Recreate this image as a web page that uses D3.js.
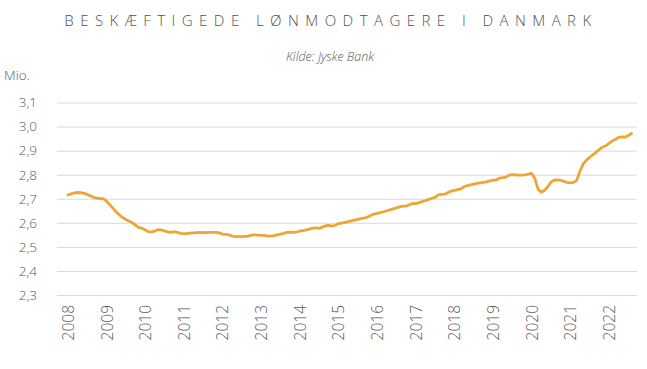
<!DOCTYPE html>
<html><head><meta charset="utf-8">
<script src="https://cdn.jsdelivr.net/npm/d3@7"></script>
<style>
body{margin:0;background:#fff;}
svg{display:block;}
</style></head>
<body>
<svg id="c" width="647" height="369"></svg>
<script>
const title = "BESKÆFTIGEDE LØNMODTAGERE I DANMARK";
const subtitle = "Kilde: Jyske Bank";
const unitLabel = "Mio.";
const yearLabels = ["2008","2009","2010","2011","2012","2013","2014","2015","2016","2017","2018","2019","2020","2021","2022"];
const yTicks = [2.3,2.4,2.5,2.6,2.7,2.8,2.9,3.0,3.1];
// Monthly values (mio.), Jan 2008 onwards
const v2008 = [2.716,2.720,2.724,2.726,2.725,2.722,2.718,2.712,2.706,2.703,2.701,2.700];
const v2009 = [2.690,2.675,2.660,2.645,2.632,2.622,2.614,2.607,2.600,2.590,2.580,2.578];
const v2010 = [2.570,2.563,2.562,2.566,2.572,2.571,2.566,2.562,2.560,2.563,2.560,2.556];
const v2011 = [2.555,2.555,2.557,2.558,2.559,2.560,2.559,2.559,2.560,2.560,2.560,2.558];
const v2012 = [2.553,2.552,2.550,2.545,2.543,2.543,2.543,2.544,2.545,2.549,2.550,2.549];
const v2013 = [2.548,2.548,2.545,2.545,2.547,2.550,2.553,2.556,2.560,2.561,2.560,2.561];
const v2014 = [2.566,2.568,2.571,2.574,2.578,2.579,2.577,2.582,2.588,2.589,2.586,2.590];
const v2015 = [2.597,2.599,2.602,2.605,2.608,2.611,2.614,2.617,2.620,2.624,2.630,2.636];
const v2016 = [2.639,2.642,2.646,2.650,2.654,2.658,2.662,2.666,2.669,2.669,2.675,2.680];
const v2017 = [2.680,2.684,2.688,2.692,2.697,2.702,2.706,2.716,2.718,2.719,2.726,2.732];
const v2018 = [2.735,2.738,2.741,2.750,2.755,2.758,2.761,2.764,2.766,2.768,2.770,2.774];
const v2019 = [2.777,2.778,2.786,2.788,2.790,2.798,2.800,2.799,2.798,2.798,2.799,2.802];
const v2020 = [2.805,2.784,2.739,2.727,2.735,2.750,2.770,2.777,2.778,2.777,2.772,2.768];
const v2021 = [2.766,2.768,2.777,2.815,2.845,2.860,2.872,2.882,2.893,2.905,2.915,2.920];
const v2022 = [2.930,2.940,2.947,2.955,2.957,2.956,2.963,2.971];
const values = [].concat(v2008,v2009,v2010,v2011,v2012,v2013,v2014,v2015,v2016,v2017,v2018,v2019,v2020,v2021,v2022);
const data = values.map((v,i)=>({m:i, v:v}));

const svg = d3.select("#c");
const pLeft = 57, pRight = 637, pTop = 102.5, pBottom = 295;
const x = d3.scaleLinear().domain([-3.4, 176.7]).range([pLeft, pRight]);
const y = d3.scaleLinear().domain([2.3, 3.1]).range([pBottom, pTop]);
const font = "'Open Sans', 'Noto Sans', sans-serif";

svg.append("text").attr("x", 331).attr("y", 26).attr("text-anchor","middle")
  .attr("font-family", font).attr("font-size", 15).attr("font-weight", 300).attr("fill","#505050")
  .attr("letter-spacing", "6.45px").text(title);
svg.append("text").attr("x", 330).attr("y", 61).attr("text-anchor","middle")
  .attr("font-family", font).attr("font-size", 12.5).attr("font-style","italic").attr("font-weight", 300).attr("fill","#595959")
  .text(subtitle);
svg.append("text").attr("x", 4).attr("y", 80)
  .attr("font-family", font).attr("font-size", 13.5).attr("font-weight", 300).attr("fill","#595959").text(unitLabel);

// grid
const yAxis = d3.axisLeft(y).tickValues(yTicks).tickSize(-(pRight-pLeft)).tickPadding(20)
  .tickFormat(d => d3.format(".1f")(d).replace(".", ","));
const gy = svg.append("g").attr("transform", `translate(${pLeft},0)`).call(yAxis);
gy.select(".domain").remove();
gy.selectAll(".tick line").attr("stroke","#d9d9d9").attr("stroke-width",1);
gy.selectAll(".tick text").attr("font-family", font).attr("font-size", 13.5).attr("font-weight", 300).attr("fill","#595959").attr("x",-20);

// x axis labels
const xAxis = d3.axisBottom(x).tickValues(yearLabels.map((d,i)=>i*12)).tickSize(0)
  .tickFormat((d,i)=>yearLabels[i]);
const gx = svg.append("g").attr("transform", `translate(0,${pBottom})`).call(xAxis);
gx.select(".domain").remove();
gx.selectAll(".tick text").attr("font-family", font).attr("font-size", 15.5).attr("font-weight", 300).attr("fill","#595959")
  .attr("transform","rotate(-90)").attr("text-anchor","end").attr("x",-10).attr("y",0).attr("dy","0.35em");

const line = d3.line().x(d=>x(d.m)).y(d=>y(d.v)).curve(d3.curveLinear);
svg.append("path").datum(data).attr("d", line).attr("fill","none")
  .attr("stroke","#EDA535").attr("stroke-width",2.8).attr("stroke-linejoin","round").attr("stroke-linecap","round");
</script>
</body></html>
